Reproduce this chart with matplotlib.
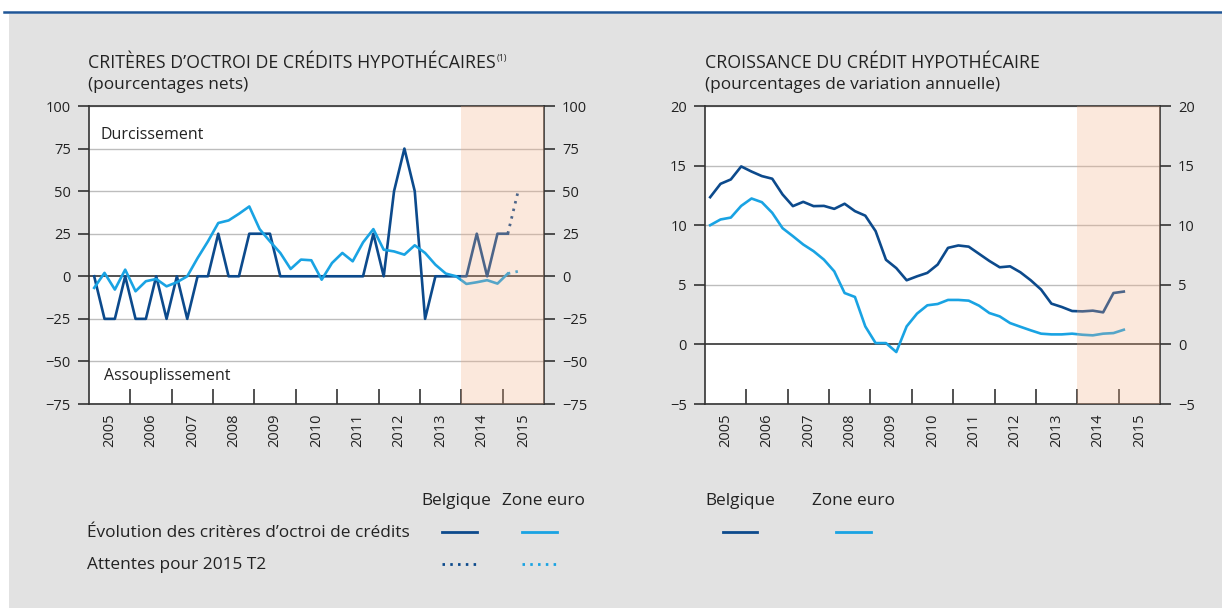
import numpy as np
import matplotlib
matplotlib.use("Agg")
import matplotlib.pyplot as plt
from matplotlib.lines import Line2D
from matplotlib.patches import Rectangle

plt.rcParams['font.family'] = ['Open Sans', 'DejaVu Sans']

# quarterly data, 2005 Q1 .. 2015 Q1
years = list(range(2005, 2016))
quarters = 2005 + (np.arange(41) + 0.5) / 4
q_expect = 2015.375

# criteres d'octroi (pourcentages nets)
be_crit = [0, -25, -25, 0, -25, -25, 0, -25, 0, -25, 0, 0, 25, 0, 0, 25, 25, 25, 0, 0,
           0, 0, 0, 0, 0, 0, 0, 25, 0, 50, 75, 50, -25, 0, 0, 0, 0, 25, 0, 25, 25]
ez_crit = [-6.8, 2, -7.8, 3.9, -8.8, -2.9, -1.6, -5.9, -3.5, 0,
           10.7, 20.5, 31.3, 32.8, 36.7, 41, 27.7, 20.5, 13.7, 4.3,
           9.8, 9.4, -2, 7.8, 13.7, 8.8, 19.9, 27.7, 15.6, 14.6,
           12.7, 18.2, 13.7, 6.8, 1.6, 0, -4.5, -3.5, -2.3, -4.3, 1.6]
be_expect = 50
ez_expect = 2.9

# croissance du credit hypothecaire (% annuel)
be_growth = [12.35, 13.47, 13.84, 14.93, 14.5, 14.12, 13.9, 12.58, 11.6, 11.96,
             11.6, 11.62, 11.37, 11.8, 11.18, 10.8, 9.5, 7.1, 6.4, 5.38,
             5.71, 6.0, 6.7, 8.1, 8.3, 8.2, 7.6, 7.0, 6.47, 6.55,
             6.05, 5.38, 4.6, 3.42, 3.14, 2.8, 2.77, 2.83, 2.69, 4.31, 4.43]
ez_growth = [10.0, 10.48, 10.64, 11.62, 12.24, 11.93, 11.04, 9.75, 9.08, 8.38,
             7.82, 7.11, 6.13, 4.31, 3.98, 1.51, 0.11, 0.11, -0.64, 1.51,
             2.58, 3.28, 3.39, 3.73, 3.73, 3.67, 3.25, 2.63, 2.35, 1.79,
             1.48, 1.18, 0.9, 0.84, 0.84, 0.9, 0.81, 0.76, 0.9, 0.95, 1.23]

NAVY = '#0c4a8c'
LIGHT = '#19a3e3'
GRAY_BG = '#e2e2e2'
TXT = '#222222'
DOTS = (0, (0.9, 1.9))

fig = plt.figure(figsize=(12.22, 6.08), dpi=100, facecolor='white')
# grey panel + blue rule on top
fig.patches.append(Rectangle((9 / 1222, 0), 1, 1 - 14 / 608, transform=fig.transFigure,
                             facecolor=GRAY_BG, edgecolor='none', zorder=-5))
fig.add_artist(Line2D([4 / 1222, 1], [1 - 12 / 608] * 2, color='#1f5596', lw=1.8))


def style_axis(ax, ylim, yticks):
    ax.set_facecolor('white')
    ax.set_xlim(2005, 2016)
    ax.set_ylim(*ylim)
    ax.set_yticks(yticks)
    for y in yticks:
        if y == 0:
            ax.axhline(0, color='#333333', lw=1.2, zorder=1)
        else:
            ax.axhline(y, color='#bdbdbd', lw=1, zorder=1)
    ax.tick_params(axis='y', which='both', direction='out', length=8, width=1.2,
                   color='#333333', labelsize=10.5, labelcolor=TXT, pad=5,
                   left=True, right=True, labelleft=True, labelright=True)
    ax.set_xticks(range(2006, 2016))
    ax.set_xticklabels([])
    ax.set_xticks([y + 0.5 for y in years], minor=True)
    ax.set_xticklabels([str(y) for y in years], minor=True, rotation=90,
                       fontsize=10.5, color=TXT)
    ax.tick_params(axis='x', which='major', direction='in', length=11, width=1.2,
                   color='#333333')
    ax.tick_params(axis='x', which='minor', length=0, pad=7)
    for s in ax.spines.values():
        s.set_color('#333333')
        s.set_linewidth(1.2)
    # shaded period (drawn over the lines, like the original)
    ax.axvspan(2014, 2016, color='#f4ad82', alpha=0.28, lw=0, zorder=4)


# ---- left chart
ax1 = fig.add_axes([89 / 1222, 1 - 404 / 608, 455 / 1222, 298 / 608])
style_axis(ax1, (-75, 100), range(-75, 101, 25))
ax1.plot(quarters, be_crit, color=NAVY, lw=1.9, zorder=3)
ax1.plot(quarters, ez_crit, color=LIGHT, lw=1.9, zorder=3)
ax1.plot([quarters[-1], q_expect], [be_crit[-1], be_expect], color=NAVY, lw=2,
         linestyle=DOTS, zorder=3)
ax1.plot([quarters[-1], q_expect], [ez_crit[-1], ez_expect], color=LIGHT, lw=2,
         linestyle=DOTS, zorder=3)
ax1.text(2005.27, 83, 'Durcissement', fontsize=11.5, color=TXT, va='center', zorder=5)
ax1.text(2005.37, -58.5, 'Assouplissement', fontsize=11.5, color=TXT, va='center', zorder=5)

# ---- right chart
ax2 = fig.add_axes([705 / 1222, 1 - 404 / 608, 455 / 1222, 298 / 608])
style_axis(ax2, (-5, 20), range(-5, 21, 5))
ax2.plot(quarters, be_growth, color=NAVY, lw=1.9, zorder=3)
ax2.plot(quarters, ez_growth, color=LIGHT, lw=1.9, zorder=3)


def fx(px):
    return px / 1222


def fy(py):
    return 1 - py / 608


# ---- titles
t1 = fig.text(fx(88), fy(63), "CRITÈRES D\u2019OCTROI DE CRÉDITS HYPOTHÉCAIRES",
              fontsize=12.8, color=TXT, va='center')
fig.canvas.draw()
bb = t1.get_window_extent()
fig.text(bb.x1 / 1222 + 0.001, fy(58), '(1)', fontsize=6.5, color=TXT, va='center')
fig.text(fx(88), fy(85), '(pourcentages nets)', fontsize=12.4, color=TXT, va='center')
fig.text(fx(705), fy(63), 'CROISSANCE DU CRÉDIT HYPOTHÉCAIRE', fontsize=12.8,
         color=TXT, va='center')
fig.text(fx(705), fy(85), '(pourcentages de variation annuelle)', fontsize=12.4,
         color=TXT, va='center')

# ---- legends (hand placed)
fig.text(fx(421), fy(501), 'Belgique', fontsize=12.4, color=TXT, va='center')
fig.text(fx(502), fy(501), 'Zone euro', fontsize=12.4, color=TXT, va='center')
fig.text(fx(87), fy(533), 'Évolution des critères d\u2019octroi de crédits', fontsize=12.4,
         color=TXT, va='center')
fig.text(fx(87), fy(565), 'Attentes pour 2015 T2', fontsize=12.4, color=TXT, va='center')
fig.add_artist(Line2D([fx(442), fx(477)], [fy(532)] * 2, color=NAVY, lw=2))
fig.add_artist(Line2D([fx(522), fx(557)], [fy(532)] * 2, color=LIGHT, lw=2))
fig.add_artist(Line2D([fx(442), fx(477)], [fy(564)] * 2, color=NAVY, lw=2, linestyle=DOTS))
fig.add_artist(Line2D([fx(522), fx(557)], [fy(564)] * 2, color=LIGHT, lw=2, linestyle=DOTS))

fig.text(fx(705), fy(501), 'Belgique', fontsize=12.4, color=TXT, va='center')
fig.text(fx(812), fy(501), 'Zone euro', fontsize=12.4, color=TXT, va='center')
fig.add_artist(Line2D([fx(723), fx(757)], [fy(532)] * 2, color=NAVY, lw=2))
fig.add_artist(Line2D([fx(836), fx(871)], [fy(532)] * 2, color=LIGHT, lw=2))

fig.savefig('out.png', dpi=100, facecolor=fig.get_facecolor())
